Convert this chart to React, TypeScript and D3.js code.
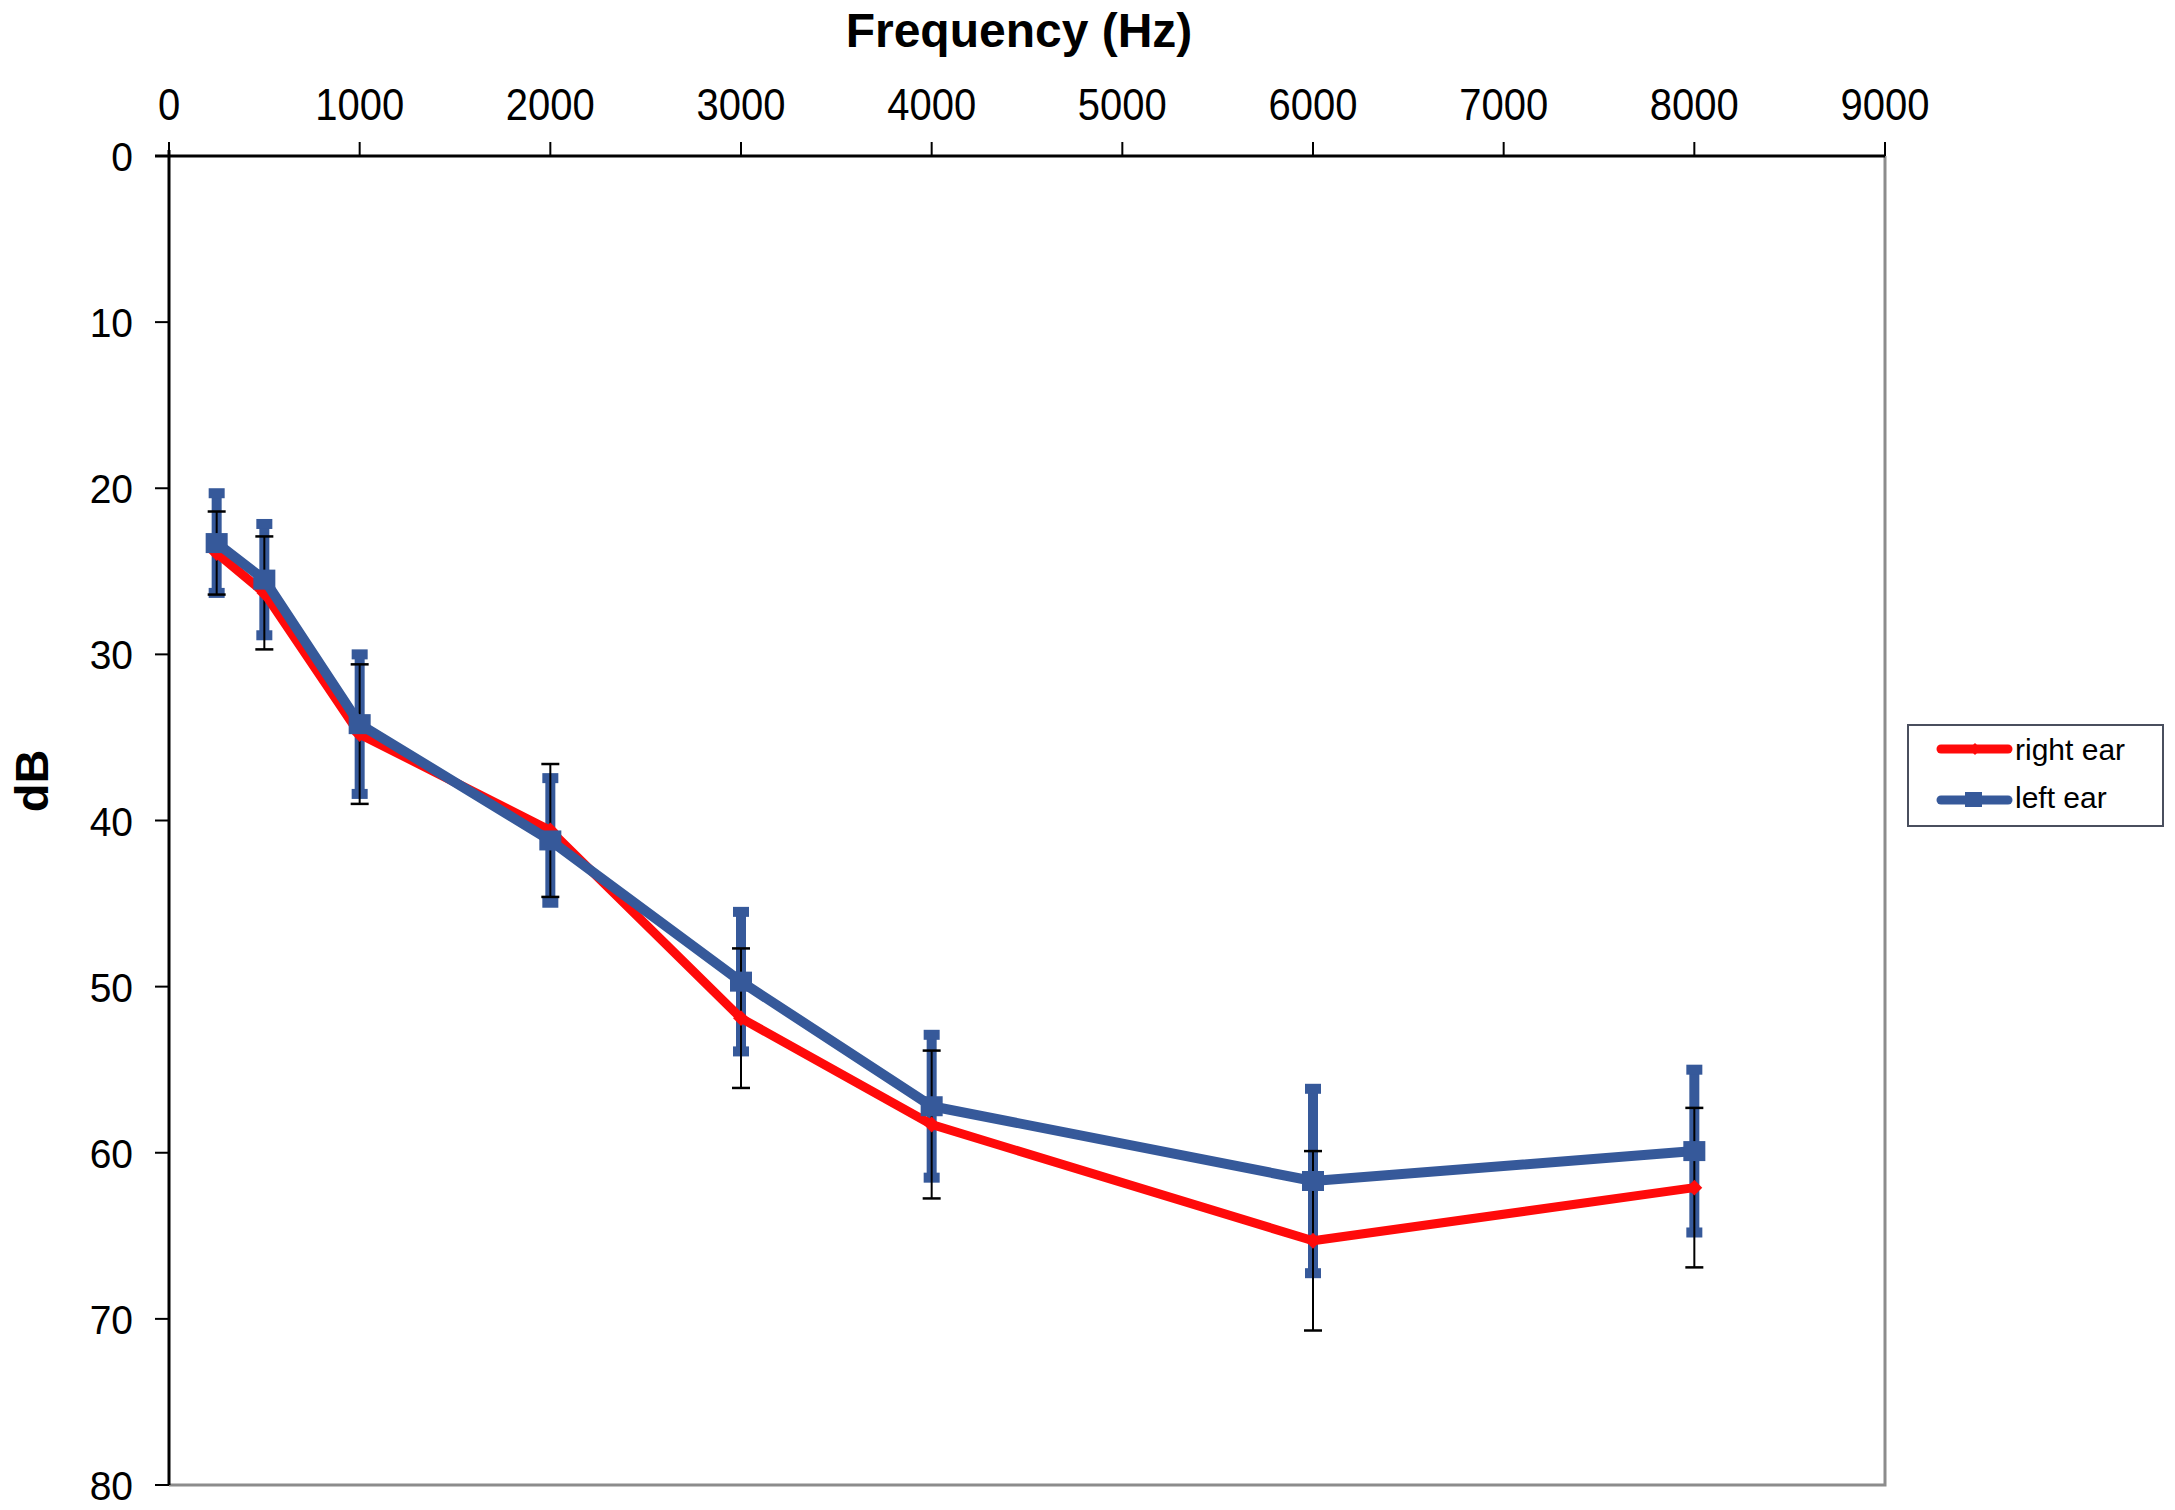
import { useEffect, useRef } from 'react';
import * as d3 from 'd3';

const frequencies = [250, 500, 1000, 2000, 3000, 4000, 6000, 8000];
const rightEar = [23.9, 26.3, 34.8, 40.6, 51.9, 58.3, 65.3, 62.1];
const rightEarSd = [2.5, 3.4, 4.2, 4.0, 4.2, 4.45, 5.4, 4.8];
const leftEar = [23.3, 25.5, 34.2, 41.2, 49.7, 57.2, 61.7, 59.9];
const leftEarSd = [3.0, 3.35, 4.2, 3.75, 4.2, 4.3, 5.55, 4.9];
const xTicks = [0, 1000, 2000, 3000, 4000, 5000, 6000, 7000, 8000, 9000];
const yTicks = [0, 10, 20, 30, 40, 50, 60, 70, 80];
const seriesNames = ['right ear', 'left ear'];

const WIDTH = 2175;
const HEIGHT = 1510;
const RED = '#ff0a0a';
const BLUE = '#36599a';
const FONT = '"Liberation Sans", Arial, sans-serif';

export default function App() {
  const svgRef = useRef<SVGSVGElement>(null);

  useEffect(() => {
    if (!svgRef.current) return;
    const svg = d3.select(svgRef.current);
    svg.selectAll('*').remove();

    const plot = { left: 169, top: 156, right: 1885, bottom: 1485 };

    const x = d3.scaleLinear().domain([0, 9000]).range([plot.left, plot.right]);
    const y = d3.scaleLinear().domain([0, 80]).range([plot.top, plot.bottom]);

    svg.append('rect')
      .attr('width', WIDTH)
      .attr('height', HEIGHT)
      .attr('fill', '#ffffff');

    // right / bottom frame (gray)
    svg.append('path')
      .attr('d', `M${plot.left},${plot.bottom}H${plot.right}V${plot.top}`)
      .attr('fill', 'none')
      .attr('stroke', '#8c8c8c')
      .attr('stroke-width', 3);

    // x axis on top
    const xAxis = svg.append('g');
    xAxis.append('line')
      .attr('x1', plot.left - 14)
      .attr('x2', plot.right)
      .attr('y1', plot.top)
      .attr('y2', plot.top)
      .attr('stroke', '#000')
      .attr('stroke-width', 3);
    xTicks.forEach(t => {
      xAxis.append('line')
        .attr('x1', x(t))
        .attr('x2', x(t))
        .attr('y1', plot.top)
        .attr('y2', plot.top - 14)
        .attr('stroke', '#000')
        .attr('stroke-width', 2);
      xAxis.append('text')
        .attr('transform', `translate(${x(t)},120) scale(1,1.1)`)
        .attr('text-anchor', 'middle')
        .attr('font-family', FONT)
        .attr('font-size', 40)
        .attr('fill', '#000')
        .text(t);
    });

    // y axis on left
    const yAxis = svg.append('g');
    yAxis.append('line')
      .attr('x1', plot.left)
      .attr('x2', plot.left)
      .attr('y1', plot.top - 6)
      .attr('y2', plot.bottom)
      .attr('stroke', '#000')
      .attr('stroke-width', 3);
    yTicks.forEach(t => {
      yAxis.append('line')
        .attr('x1', plot.left)
        .attr('x2', plot.left - 14)
        .attr('y1', y(t))
        .attr('y2', y(t))
        .attr('stroke', '#000')
        .attr('stroke-width', 2);
      yAxis.append('text')
        .attr('transform', `translate(133,${y(t) + 15}) scale(1,1.06)`)
        .attr('text-anchor', 'end')
        .attr('font-family', FONT)
        .attr('font-size', 39)
        .attr('fill', '#000')
        .text(t);
    });

    // titles
    svg.append('text')
      .attr('x', 1019)
      .attr('y', 47)
      .attr('text-anchor', 'middle')
      .attr('font-family', FONT)
      .attr('font-weight', 'bold')
      .attr('font-size', 48)
      .attr('fill', '#000')
      .text('Frequency (Hz)');

    svg.append('text')
      .attr('transform', `translate(48,781) rotate(-90)`)
      .attr('text-anchor', 'middle')
      .attr('font-family', FONT)
      .attr('font-weight', 'bold')
      .attr('font-size', 47)
      .attr('fill', '#000')
      .text('dB');

    const line = d3.line<number>()
      .x((_, i) => x(frequencies[i]))
      .y(d => y(d));

    // left ear error bars (thick blue)
    const leftBars = svg.append('g');
    leftEar.forEach((v, i) => {
      const cx = x(frequencies[i]);
      const top = y(v - leftEarSd[i]);
      const bot = y(v + leftEarSd[i]);
      leftBars.append('line')
        .attr('x1', cx).attr('x2', cx)
        .attr('y1', top).attr('y2', bot)
        .attr('stroke', BLUE)
        .attr('stroke-width', 10);
      [top, bot].forEach(cy => {
        leftBars.append('rect')
          .attr('x', cx - 8)
          .attr('y', cy - 5)
          .attr('width', 16)
          .attr('height', 10)
          .attr('fill', BLUE);
      });
    });

    // right ear error bars (thin black)
    const rightBars = svg.append('g');
    rightEar.forEach((v, i) => {
      const cx = x(frequencies[i]);
      const top = y(v - rightEarSd[i]);
      const bot = y(v + rightEarSd[i]);
      rightBars.append('line')
        .attr('x1', cx).attr('x2', cx)
        .attr('y1', top).attr('y2', bot)
        .attr('stroke', '#000')
        .attr('stroke-width', 2);
      [top, bot].forEach(cy => {
        rightBars.append('line')
          .attr('x1', cx - 9).attr('x2', cx + 9)
          .attr('y1', cy).attr('y2', cy)
          .attr('stroke', '#000')
          .attr('stroke-width', 2.5);
      });
    });

    // right ear line + diamonds
    svg.append('path')
      .attr('d', line(rightEar))
      .attr('fill', 'none')
      .attr('stroke', RED)
      .attr('stroke-width', 9)
      .attr('stroke-linejoin', 'round');
    rightEar.forEach((v, i) => {
      svg.append('path')
        .attr('d', d3.symbol(d3.symbolDiamond2, 160)())
        .attr('transform', `translate(${x(frequencies[i])},${y(v)})`)
        .attr('fill', RED);
    });

    // left ear line + squares
    svg.append('path')
      .attr('d', line(leftEar))
      .attr('fill', 'none')
      .attr('stroke', BLUE)
      .attr('stroke-width', 10)
      .attr('stroke-linejoin', 'round');
    leftEar.forEach((v, i) => {
      svg.append('rect')
        .attr('x', x(frequencies[i]) - 11)
        .attr('y', y(v) - 10)
        .attr('width', 22)
        .attr('height', 20)
        .attr('fill', BLUE);
    });

    // legend
    const legend = svg.append('g');
    legend.append('rect')
      .attr('x', 1908)
      .attr('y', 725)
      .attr('width', 255)
      .attr('height', 101)
      .attr('fill', '#fff')
      .attr('stroke', '#4a4f5e')
      .attr('stroke-width', 2);
    seriesNames.forEach((name, i) => {
      const ly = i === 0 ? 749 : 800;
      const color = i === 0 ? RED : BLUE;
      legend.append('line')
        .attr('x1', 1941).attr('x2', 2008)
        .attr('y1', ly).attr('y2', ly)
        .attr('stroke', color)
        .attr('stroke-width', 9)
        .attr('stroke-linecap', 'round');
      if (i === 0) {
        legend.append('path')
          .attr('d', d3.symbol(d3.symbolDiamond2, 90)())
          .attr('transform', `translate(1975,${ly})`)
          .attr('fill', color);
      } else {
        legend.append('rect')
          .attr('x', 1965).attr('y', ly - 8)
          .attr('width', 17).attr('height', 15)
          .attr('fill', color);
      }
      legend.append('text')
        .attr('x', 2015)
        .attr('y', i === 0 ? 760 : 808)
        .attr('font-family', FONT)
        .attr('font-size', 30)
        .attr('fill', '#000')
        .text(name);
    });
  }, []);

  return (
    <svg
      ref={svgRef}
      width={WIDTH}
      height={HEIGHT}
      style={{ position: 'absolute', left: 0, top: 0, display: 'block' }}
    />
  );
}
